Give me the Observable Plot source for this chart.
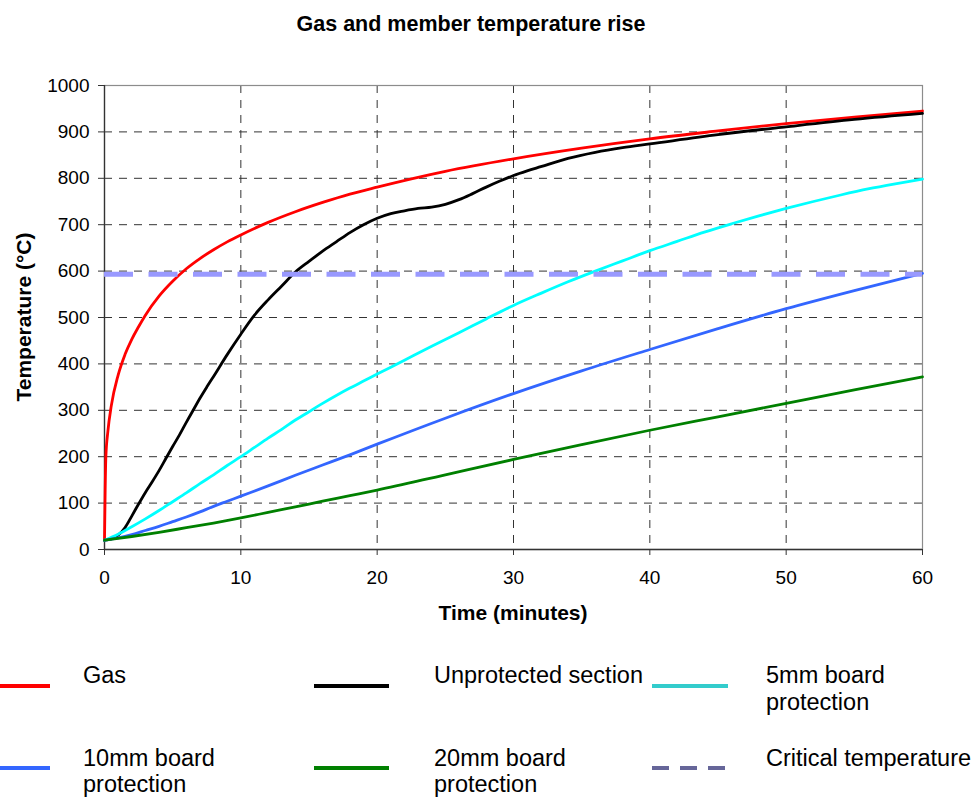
<!DOCTYPE html>
<html>
<head>
<meta charset="utf-8">
<script src="https://cdn.jsdelivr.net/npm/d3@7"></script>
<script src="https://cdn.jsdelivr.net/npm/@observablehq/plot@0.6"></script>
<style>
  html, body { margin: 0; padding: 0; background: #fff; }
  #chart { width: 974px; height: 799px; }
  #chart svg { display: block; }
</style>
</head>
<body>
<div id="chart"></div>
<script>
// ---------- data ----------
const titleText = "Gas and member temperature rise";
const xLabel = "Time (minutes)";
const yLabel = "Temperature (°C)";

const xTicks = [0, 10, 20, 30, 40, 50, 60];
const yTicks = [0, 100, 200, 300, 400, 500, 600, 700, 800, 900, 1000];

const seriesNames = ["Gas", "Unprotected section", "5mm board protection",
                     "10mm board protection", "20mm board protection", "Critical temperature"];

const gasTime = [0, 0.05, 0.1, 0.25, 0.5, 1, 1.5, 2, 2.5, 3, 4, 5, 6, 7, 8, 9, 10, 12, 14, 16, 18, 20, 25, 30, 35, 40, 45, 50, 55, 60];
const gasTemp = [20, 130, 200, 255, 310, 376, 420, 453, 480, 505, 546, 578, 605, 627, 646, 663, 678, 705, 728, 748, 766, 781, 815, 842, 865, 885, 902, 918, 932, 945];

const unprotTime = [0, 0.5, 1, 1.5, 2, 2.5, 3, 3.5, 4, 4.5, 5, 5.5, 6, 6.5, 7, 7.5, 8, 9, 10, 11, 12, 13, 14, 15, 16, 17, 18, 19, 20, 21, 22, 23, 24, 25, 26, 27, 28, 29, 30, 31, 32, 34, 36, 38, 40, 45, 50, 55, 60];
const unprotTemp = [20, 23, 31, 47, 72, 98, 123, 146, 170, 196, 222, 247, 274, 300, 326, 350, 373, 420, 464, 505, 538, 568, 598, 621, 643, 663, 683, 700, 714, 724, 730, 735, 738, 744, 754, 767, 781, 794, 806, 816, 825, 843, 856, 866, 874, 894, 911, 927, 940];

const board5Time = [0, 1, 2, 3, 4, 5, 6, 7, 8, 9, 10, 11, 12, 13, 14, 15, 16, 17, 18, 19, 20, 22, 24, 26, 28, 30, 32, 34, 36, 38, 40, 42, 44, 46, 48, 50, 52, 54, 56, 58, 60];
const board5Temp = [20, 33, 49, 66, 84, 103, 122, 142, 161, 181, 200, 220, 240, 259, 279, 297, 315, 332, 348, 363, 378, 408, 438, 467, 497, 526, 552, 577, 600, 622, 644, 664, 684, 702, 719, 735, 750, 764, 777, 788, 798];

const board10Time = [0, 1, 2, 3, 4, 5, 6, 7, 8, 9, 10, 12, 14, 16, 18, 20, 25, 30, 35, 40, 45, 50, 55, 60];
const board10Temp = [20, 25, 32, 41, 50, 60, 70, 81, 93, 104, 115, 137, 160, 182, 204, 227, 283, 336, 385, 431, 476, 519, 558, 595];

const board20Time = [0, 2, 4, 6, 8, 10, 12, 14, 16, 18, 20, 25, 30, 35, 40, 45, 50, 55, 60];
const board20Temp = [20, 28, 37, 47, 57, 68, 80, 92, 104, 116, 128, 161, 194, 226, 257, 286, 315, 344, 372];

const criticalTemp = 593;

// ---------- styles ----------
const lineColors = ["#ff0000", "#000000", "#00ffff", "#3366ff", "#008000", "#9999ff"];
const legendColors = ["#ff0000", "#000000", "#33cccc", "#3366ff", "#008000", "#666699"];
const FONT = "Arial, 'Liberation Sans', Helvetica, sans-serif";

const toRows = (ts, vs, name) => ts.map((t, i) => ({t, v: vs[i], name}));
const curves = [
  toRows(gasTime, gasTemp, seriesNames[0]),
  toRows(unprotTime, unprotTemp, seriesNames[1]),
  toRows(board5Time, board5Temp, seriesNames[2]),
  toRows(board10Time, board10Temp, seriesNames[3]),
  toRows(board20Time, board20Temp, seriesNames[4])
];

const gridDash = "8,7";

const chart = Plot.plot({
  width: 974,
  height: 799,
  marginTop: 85,
  marginBottom: 250,
  marginLeft: 104,
  marginRight: 52,
  style: {fontFamily: FONT, color: "#000", background: "#fff", overflow: "visible"},
  x: {domain: [0, 60]},
  y: {domain: [0, 1000]},
  marks: [
    Plot.gridX(xTicks.filter(d => d > 0 && d < 60), {stroke: "#333", strokeOpacity: 1, strokeWidth: 1, strokeDasharray: gridDash}),
    Plot.gridY(yTicks.filter(d => d > 0 && d < 1000), {stroke: "#333", strokeOpacity: 1, strokeWidth: 1, strokeDasharray: gridDash}),
    Plot.frame({stroke: "#8c8c8c", strokeWidth: 1.2}),
    Plot.ruleX([0], {stroke: "#333", strokeWidth: 1.3}),
    Plot.ruleY([0], {stroke: "#333", strokeWidth: 1.3}),
    Plot.axisX({ticks: xTicks, tickSize: 6, tickPadding: 15, fontSize: 19, label: null,
                tickFormat: d => String(d), stroke: "#333"}),
    Plot.axisY({ticks: yTicks, tickSize: 6, tickPadding: 9, fontSize: 19, label: null,
                tickFormat: d => String(d), stroke: "#333"}),
    ...curves.map((rows, i) => Plot.line(rows, {
      x: "t", y: "v", stroke: lineColors[i], strokeWidth: 2.8, curve: "monotone-x"
    })),
    Plot.ruleY([criticalTemp], {stroke: lineColors[5], strokeWidth: 5, strokeDasharray: "29,15.5"})
  ]
});

document.getElementById("chart").appendChild(chart);

// ---------- title, axis titles & legend (text added into the same SVG) ----------
const svg = d3.select(chart);
const addText = (sel, s, attrs) => {
  const t = sel.append("text").text(s)
    .attr("font-family", FONT).attr("fill", "#000");
  Object.entries(attrs).forEach(([k, v]) => t.attr(k, v));
  return t;
};

addText(svg, titleText, {x: 471, y: 30.5, "text-anchor": "middle", "font-size": 21.5, "font-weight": "bold"});
addText(svg, xLabel, {x: 513, y: 620, "text-anchor": "middle", "font-size": 21, "font-weight": "bold"});
addText(svg, yLabel, {transform: "translate(31,317) rotate(-90)", "text-anchor": "middle", "font-size": 21, "font-weight": "bold"});

const legendCols = [
  {x1: 0, x2: 50, tx: 83},
  {x1: 314, x2: 389, tx: 434},
  {x1: 652, x2: 728, tx: 766}
];
const legendRows = [
  {ly: 686, b1: 683, b2: 710},
  {ly: 768, b1: 766, b2: 792}
];
const legendLabels = [
  ["Gas"],
  ["Unprotected section"],
  ["5mm board", "protection"],
  ["10mm board", "protection"],
  ["20mm board", "protection"],
  ["Critical temperature"]
];

const lg = svg.append("g").attr("text-anchor", "start");
legendLabels.forEach((lines, i) => {
  const col = legendCols[i % 3];
  const row = legendRows[Math.floor(i / 3)];
  const ln = lg.append("line")
    .attr("x1", col.x1).attr("x2", col.x2)
    .attr("y1", row.ly).attr("y2", row.ly)
    .attr("stroke", legendColors[i]).attr("stroke-width", 4);
  if (i === 5) ln.attr("stroke-dasharray", "17,11");
  lines.forEach((s, j) => {
    addText(lg, s, {x: col.tx, y: j === 0 ? row.b1 : row.b2, "text-anchor": "start", "font-size": 23.5});
  });
});
</script>
</body>
</html>
